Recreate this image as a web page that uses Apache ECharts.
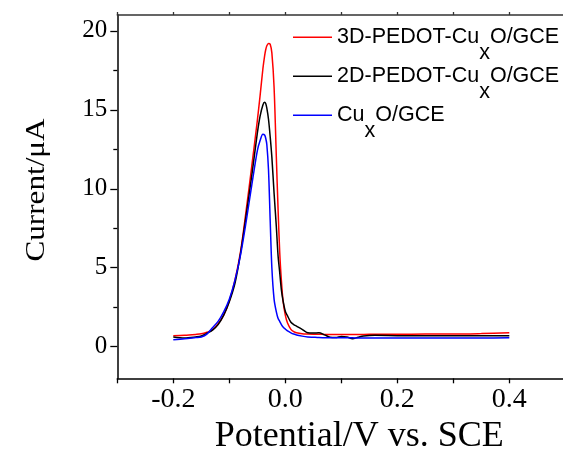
<!DOCTYPE html>
<html>
<head>
<meta charset="utf-8">
<script src="https://cdn.jsdelivr.net/npm/echarts@6/dist/echarts.min.js"></script>
<style>
  html, body { margin: 0; padding: 0; background: #fff; }
  #main { width: 563px; height: 450px; }
</style>
</head>
<body>
<div id="main"></div>
<script>
// potential (V vs. SCE), shared by all three curves
var potential = [-0.2, -0.18, -0.16, -0.15, -0.14, -0.13, -0.12, -0.11, -0.1, -0.09,
  -0.08, -0.07, -0.06, -0.05, -0.045, -0.04, -0.037, -0.035, -0.033, -0.03,
  -0.027, -0.024, -0.02, -0.016, -0.013, -0.01, -0.007, -0.004, 0, 0.004,
  0.01, 0.015, 0.02, 0.03, 0.04, 0.05, 0.06, 0.07, 0.08, 0.09,
  0.1, 0.11, 0.12, 0.13, 0.14, 0.16, 0.2, 0.25, 0.3, 0.35, 0.4];

// current (uA)
var current3D = [0.69, 0.72, 0.78, 0.82, 0.92, 1.07, 1.45, 2.0, 2.9, 4.2,
  6.0, 8.6, 11.4, 14.3, 15.9, 17.6, 18.4, 18.8, 19.05, 19.2,
  19.15, 18.6, 16.4, 12.0, 8.8, 6.0, 4.2, 2.9, 2.0, 1.5,
  1.1, 0.95, 0.88, 0.82, 0.8, 0.79, 0.79, 0.78, 0.78, 0.78,
  0.78, 0.78, 0.78, 0.78, 0.78, 0.79, 0.79, 0.8, 0.8, 0.83, 0.88];

var current2D = [0.61, 0.55, 0.62, 0.68, 0.85, 1.05, 1.4, 2.0, 2.85, 4.0,
  5.9, 8.3, 10.8, 13.5, 14.6, 15.3, 15.47, 15.4, 15.1, 14.4,
  13.3, 12.0, 9.7, 7.6, 5.8, 4.7, 3.6, 2.9, 2.25, 1.95,
  1.55, 1.4, 1.3, 1.1, 0.88, 0.86, 0.88, 0.75, 0.6, 0.58,
  0.65, 0.62, 0.5, 0.6, 0.68, 0.72, 0.7, 0.69, 0.7, 0.7, 0.7];

var currentCuxO = [0.44, 0.5, 0.58, 0.62, 0.8, 1.2, 1.6, 2.2, 3.0, 4.2,
  5.8, 7.9, 10.2, 12.4, 13.05, 13.45, 13.4, 13.2, 12.8, 11.2,
  8.0, 5.0, 3.0, 2.2, 1.8, 1.6, 1.4, 1.25, 1.12, 1.0,
  0.88, 0.8, 0.74, 0.67, 0.62, 0.6, 0.58, 0.57, 0.56, 0.56,
  0.56, 0.56, 0.56, 0.55, 0.55, 0.55, 0.55, 0.55, 0.55, 0.55, 0.56];

var seriesNames = ['3D-PEDOT-CuxO/GCE', '2D-PEDOT-CuxO/GCE', 'CuxO/GCE'];
var seriesColors = ['#ff0000', '#000000', '#0000ff'];
var yMajor = [0, 5, 10, 15, 20];
var yMinor = [2.5, 7.5, 12.5, 17.5];

function pairs(ys) {
  return potential.map(function (x, i) { return [x, ys[i]]; });
}

var myChart = echarts.init(document.getElementById('main'));

var serif = 'Liberation Serif, Times New Roman, serif';
var sans = 'Liberation Sans, Arial, sans-serif';

var option = {
  animation: false,
  grid: { left: 117.3, right: -2.3, top: 15, bottom: 71.7, containLabel: false, outerBoundsMode: 'none' },
  legend: {
    orient: 'vertical',
    left: 293,
    top: 26.3,
    padding: 0,
    icon: 'rect',
    itemWidth: 39,
    itemHeight: 1.5,
    itemGap: 1.5,
    data: seriesNames,
    formatter: function (name) {
      var p = name.split('x');
      return '{t|' + p[0] + '}{s|x}{t|' + p[1] + '}';
    },
    textStyle: {
      rich: {
        t: { fontFamily: sans, fontSize: 21.5, color: '#000', lineHeight: 32 },
        s: { fontFamily: sans, fontSize: 21.5, color: '#000', height: 1, lineHeight: 1, verticalAlign: 'bottom' }
      }
    }
  },
  xAxis: [
    {
      type: 'value', position: 'bottom',
      min: -0.3, max: 0.5, interval: 0.1,
      name: 'Potential/V vs. SCE',
      nameLocation: 'middle',
      nameGap: 32,
      nameTextStyle: { fontFamily: serif, fontSize: 36, color: '#000', padding: [0, 0, 0, 36] },
      axisLine: { onZero: false, lineStyle: { color: '#000', width: 1.5 } },
      axisTick: { show: true, inside: false, length: 5, lineStyle: { color: '#000', width: 1.3 } },
      axisLabel: {
        margin: 7,
        fontFamily: serif, fontSize: 28, color: '#000',
        showMinLabel: true, showMaxLabel: true,
        formatter: function (v) {
          var k = Math.round(v * 10);
          return k % 2 === 0 ? (k / 10).toFixed(1) : '';
        }
      },
      splitLine: { show: false }
    },
    {
      type: 'value', position: 'top',
      min: -0.3, max: 0.5, interval: 0.1,
      axisLine: { onZero: false, lineStyle: { color: '#333', width: 1.5 } },
      axisTick: { show: true, inside: false, length: 3, lineStyle: { color: '#333', width: 1.3 } },
      axisLabel: { show: false },
      splitLine: { show: false }
    }
  ],
  yAxis: [
    {
      type: 'value', position: 'left',
      min: -2, max: 21,
      axisLine: { show: true, onZero: false, lineStyle: { color: '#000', width: 1.5 } },
      axisTick: { show: true, inside: false, length: 7, customValues: yMajor, lineStyle: { color: '#000', width: 1.3 } },
      axisLabel: { margin: 10, fontFamily: serif, fontSize: 25, color: '#000', customValues: yMajor },
      splitLine: { show: false }
    },
    {
      type: 'value', position: 'left',
      min: -2, max: 21,
      axisLine: { show: false, onZero: false },
      axisTick: { show: true, inside: false, length: 4, customValues: yMinor, lineStyle: { color: '#000', width: 1.3 } },
      axisLabel: { show: false },
      splitLine: { show: false }
    }
  ],
  graphic: [
    {
      type: 'text',
      x: 37, y: 190,
      rotation: Math.PI / 2,
      scaleX: 1.3,
      scaleY: 1.1,
      style: {
        text: 'Current/μA',
        font: '24px ' + serif,
        fill: '#000',
        align: 'center', verticalAlign: 'middle',
        textAlign: 'center', textVerticalAlign: 'middle'
      }
    }
  ],
  series: [
    {
      name: seriesNames[0], type: 'line', xAxisIndex: 0, yAxisIndex: 0,
      data: pairs(current3D), symbol: 'none', showSymbol: false, smooth: 0.3,
      color: seriesColors[0], lineStyle: { color: seriesColors[0], width: 1.5 }
    },
    {
      name: seriesNames[1], type: 'line', xAxisIndex: 0, yAxisIndex: 0,
      data: pairs(current2D), symbol: 'none', showSymbol: false, smooth: 0.3,
      color: seriesColors[1], lineStyle: { color: seriesColors[1], width: 1.5 }
    },
    {
      name: seriesNames[2], type: 'line', xAxisIndex: 0, yAxisIndex: 0,
      data: pairs(currentCuxO), symbol: 'none', showSymbol: false, smooth: 0.3,
      color: seriesColors[2], lineStyle: { color: seriesColors[2], width: 1.5 }
    }
  ]
};

myChart.setOption(option);
window.onresize = myChart.resize;
</script>
</body>
</html>
